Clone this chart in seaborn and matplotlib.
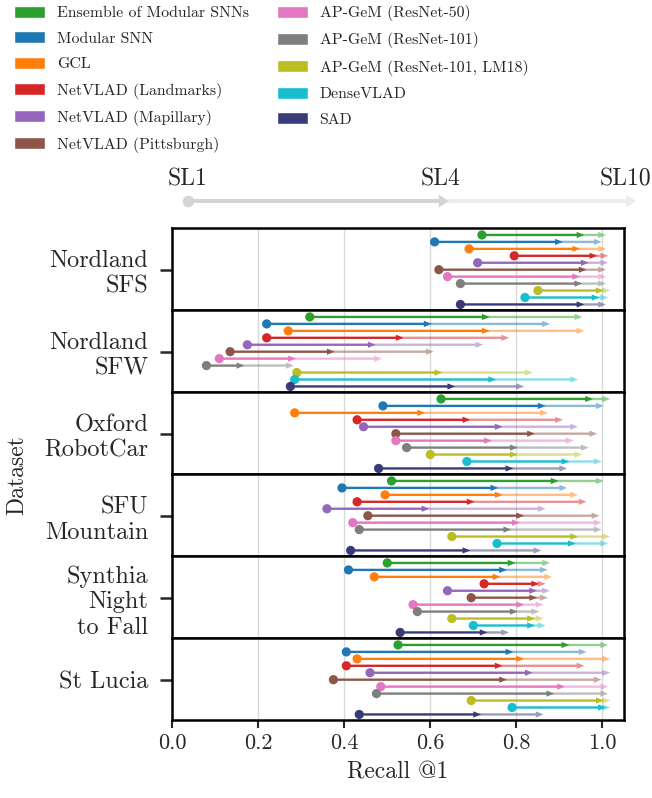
import matplotlib.pyplot as plt
import seaborn as sns
from matplotlib.patches import Patch

# methods and colours (same order in every panel, top to bottom)
methods = ['Ensemble of Modular SNNs', 'Modular SNN', 'GCL', 'NetVLAD (Landmarks)',
           'NetVLAD (Mapillary)', 'NetVLAD (Pittsburgh)', 'AP-GeM (ResNet-50)',
           'AP-GeM (ResNet-101)', 'AP-GeM (ResNet-101, LM18)', 'DenseVLAD', 'SAD']
colors = ['#2ca02c', '#1f77b4', '#ff7f0e', '#d62728', '#9467bd', '#8c564b',
          '#e377c2', '#7f7f7f', '#bcbd22', '#17becf', '#393b79']

datasets = ['Nordland\nSFS', 'Nordland\nSFW', 'Oxford\nRobotCar', 'SFU\nMountain',
            'Synthia\nNight\nto Fall', 'St Lucia']

# recall@1 at sequence length 1, 4 and 10
sl1 = [
    [0.72, 0.61, 0.69, 0.795, 0.71, 0.62, 0.64, 0.67, 0.85, 0.82, 0.67],
    [0.32, 0.22, 0.27, 0.22, 0.175, 0.135, 0.11, 0.08, 0.29, 0.285, 0.275],
    [0.625, 0.49, 0.285, 0.43, 0.445, 0.52, 0.52, 0.545, 0.60, 0.685, 0.48],
    [0.51, 0.395, 0.495, 0.43, 0.36, 0.455, 0.42, 0.435, 0.65, 0.755, 0.415],
    [0.50, 0.41, 0.47, 0.725, 0.64, 0.695, 0.56, 0.57, 0.65, 0.70, 0.53],
    [0.525, 0.405, 0.43, 0.405, 0.46, 0.375, 0.485, 0.475, 0.695, 0.79, 0.435],
]
sl4 = [
    [0.94, 0.89, 0.93, 0.97, 0.95, 0.945, 0.93, 0.935, 0.985, 0.975, 0.94],
    [0.72, 0.585, 0.72, 0.52, 0.455, 0.36, 0.27, 0.15, 0.61, 0.735, 0.64],
    [0.96, 0.85, 0.57, 0.675, 0.75, 0.825, 0.725, 0.785, 0.785, 0.905, 0.775],
    [0.88, 0.74, 0.75, 0.685, 0.58, 0.80, 0.79, 0.77, 0.925, 0.92, 0.675],
    [0.78, 0.76, 0.745, 0.835, 0.83, 0.83, 0.80, 0.785, 0.825, 0.825, 0.715],
    [0.905, 0.775, 0.80, 0.75, 0.82, 0.76, 0.895, 0.87, 0.985, 0.99, 0.70],
]
sl10 = [
    [0.99, 0.98, 0.99, 0.995, 0.995, 0.99, 0.99, 0.99, 1.0, 0.995, 0.99],
    [0.935, 0.86, 0.94, 0.765, 0.705, 0.59, 0.47, 0.265, 0.82, 0.925, 0.80],
    [1.0, 0.985, 0.855, 0.89, 0.925, 0.97, 0.915, 0.95, 0.935, 0.98, 0.90],
    [0.985, 0.90, 0.925, 0.945, 0.85, 0.975, 0.98, 0.98, 1.0, 0.995, 0.84],
    [0.86, 0.855, 0.865, 0.85, 0.86, 0.855, 0.845, 0.835, 0.845, 0.85, 0.765],
    [0.995, 0.945, 1.0, 0.94, 1.0, 0.98, 0.995, 0.995, 1.0, 1.0, 0.845],
]

sns.set_theme(style='ticks')
plt.rcParams['font.family'] = ['cmr10', 'DejaVu Serif']
plt.rcParams['mathtext.fontset'] = 'cm'
plt.rcParams['axes.unicode_minus'] = False
plt.rcParams['axes.formatter.use_mathtext'] = True

W, H = 652, 798
fig = plt.figure(figsize=(W / 100, H / 100), dpi=100)

panel_top = 228
panel_h = 82
left_px, right_px = 172, 624
head_len = 0.018

axes = []
for i, name in enumerate(datasets):
    top = panel_top + i * panel_h
    ax = fig.add_axes([left_px / W, 1 - (top + panel_h) / H,
                       (right_px - left_px) / W, panel_h / H])
    rows = list(range(len(methods)))
    for j in rows:
        # light arrow SL4 -> SL10
        ax.arrow(sl4[i][j], j, sl10[i][j] - sl4[i][j], 0, width=0.34, head_width=0.9,
                 head_length=head_len, length_includes_head=False, color=colors[j],
                 alpha=0.5, lw=0, zorder=2)
        # solid arrow SL1 -> SL4
        ax.arrow(sl1[i][j], j, sl4[i][j] - sl1[i][j], 0, width=0.34, head_width=0.9,
                 head_length=head_len, length_includes_head=False, color=colors[j],
                 lw=0, zorder=3)
    sns.scatterplot(x=sl1[i], y=rows, hue=methods, palette=colors, s=44,
                    linewidth=0, legend=False, ax=ax, zorder=4)
    ax.set_xlim(0, 1.05)
    ax.set_ylim(10.8, -1.0)
    ax.set_yticks([5])
    ax.set_yticklabels([name], fontsize=17.5, multialignment='right')
    ax.tick_params(axis='y', length=9, width=1.8, pad=8)
    ax.set_xticks([0.0, 0.2, 0.4, 0.6, 0.8, 1.0])
    ax.grid(axis='x', color='#d9d9d9', lw=1, zorder=0)
    ax.set_axisbelow(True)
    ax.set_ylabel('')
    for sp in ax.spines.values():
        sp.set_linewidth(1.8)
        sp.set_color('black')
    if i < len(datasets) - 1:
        ax.tick_params(axis='x', length=0, labelbottom=False)
    else:
        ax.set_xticklabels(['0.0', '0.2', '0.4', '0.6', '0.8', '1.0'], fontsize=16)
        ax.tick_params(axis='x', length=6, width=1.5, pad=4)
        ax.set_xlabel('Recall @1', fontsize=17, labelpad=6)
    axes.append(ax)

fig.text(17 / W, 1 - 475 / H, 'Dataset', rotation=90, ha='center', va='center', fontsize=17)

# sequence length key
ax_sl = fig.add_axes([left_px / W, 1 - 215 / H, (W - left_px) / W, 50 / H])
ax_sl.set_xlim(0, (W - left_px) / (right_px - left_px) * 1.05)
ax_sl.set_ylim(0, 1)
ax_sl.axis('off')
ax_sl.arrow(0.62, 0.28, 1.055 - 0.62, 0, width=0.08, head_width=0.26, head_length=0.023,
            color='#ececec', lw=0)
ax_sl.arrow(0.037, 0.28, 0.62 - 0.037, 0, width=0.08, head_width=0.26, head_length=0.023,
            color='#d4d4d4', lw=0)
ax_sl.scatter([0.037], [0.28], s=70, color='#d4d4d4', lw=0, zorder=3)
ax_sl.text(0.035, 0.5, 'SL1', ha='center', va='bottom', fontsize=17)
ax_sl.text(0.623, 0.5, 'SL4', ha='center', va='bottom', fontsize=17)
ax_sl.text(1.053, 0.5, 'SL10', ha='center', va='bottom', fontsize=17)

handles = [Patch(facecolor=c, edgecolor='white', label=m) for m, c in zip(methods, colors)]
fig.legend(handles=handles, loc='upper left', bbox_to_anchor=(12 / W, 1 - 3 / H), ncol=2,
           frameon=False, fontsize=11.4, handlelength=1.95, handleheight=0.78,
           labelspacing=0.7, columnspacing=1.75, handletextpad=0.75, borderaxespad=0.0,
           borderpad=0.15)

fig.savefig('out.png', dpi=100)
